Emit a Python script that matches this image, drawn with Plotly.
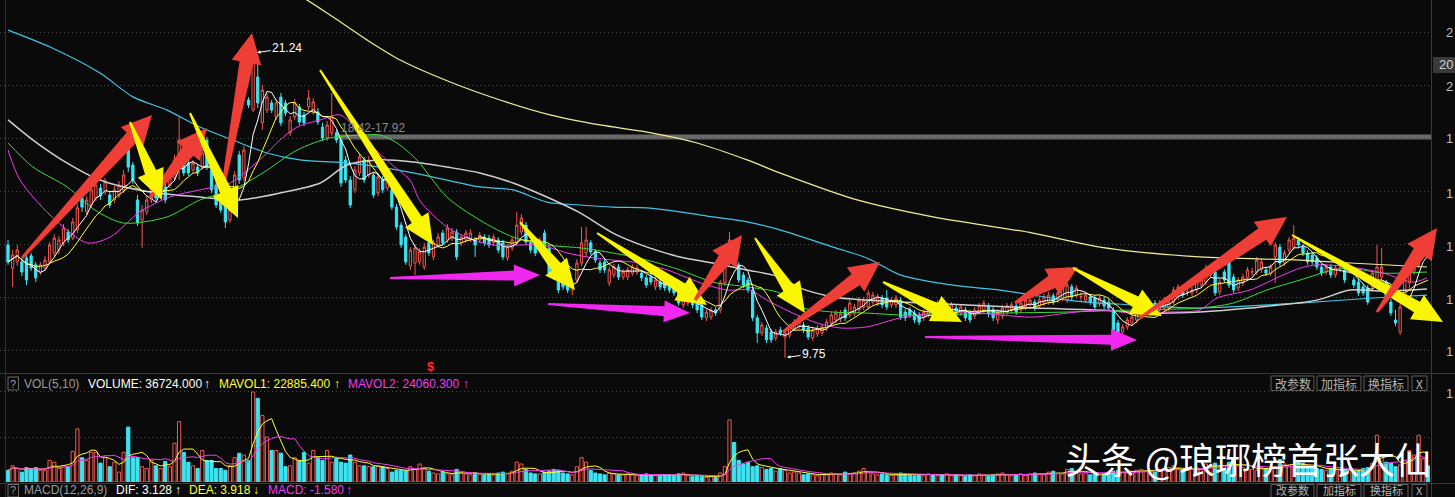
import math
import pandas as pd
import plotly.graph_objects as go

# ---------------- DATA ----------------
OPEN = [
    14.00, 13.13, 13.36, 13.36, 13.51, 13.59, 13.25, 12.98, 13.13, 13.36,
    13.70, 13.81, 14.08, 14.49, 14.26, 14.57, 15.77, 15.25, 15.51, 15.77,
    16.15, 16.00, 15.89, 15.70, 15.89, 16.08, 17.85, 17.02, 15.70, 14.94,
    15.25, 15.70, 16.45, 16.08, 16.19, 16.26, 16.53, 17.32, 17.21, 17.09,
    16.83, 16.94, 16.94, 17.96, 16.83, 16.26, 15.77, 15.51, 14.94, 15.32,
    17.40, 16.53, 19.47, 19.09, 20.34, 18.61, 19.09, 19.36, 18.83, 19.58,
    19.36, 18.23, 18.83, 19.21, 18.91, 19.21, 19.02, 19.02, 18.45, 18.04,
    18.23, 18.23, 17.96, 17.21, 16.45, 16.08, 16.72, 17.21, 16.64, 16.64,
    15.96, 16.45, 16.15, 16.08, 15.43, 14.75, 14.30, 13.21, 13.32, 13.36,
    13.17, 14.08, 13.55, 14.00, 14.45, 14.19, 14.26, 14.49, 14.08, 14.19,
    14.19, 14.19, 14.19, 14.30, 14.26, 14.08, 14.19, 14.08, 13.51, 13.89,
    14.11, 14.49, 14.75, 14.08, 14.00, 13.89, 14.45, 13.89, 13.17, 12.79,
    12.76, 12.57, 12.30, 12.68, 13.32, 13.70, 14.08, 13.74, 13.32, 13.36,
    12.57, 12.87, 13.17, 12.79, 12.79, 12.94, 12.98, 12.94, 12.76, 12.79,
    12.42, 12.60, 12.60, 12.57, 12.42, 12.30, 11.74, 11.81, 12.00, 11.92,
    11.74, 11.25, 11.28, 11.55, 11.55, 12.57, 13.36, 14.00, 13.25, 12.87,
    12.68, 12.30, 11.25, 10.68, 10.87, 10.72, 10.49, 10.79, 10.53, 10.60,
    10.87, 10.94, 10.98, 10.87, 10.49, 10.64, 10.68, 10.87, 11.06, 11.17,
    11.21, 11.55, 11.36, 11.43, 11.55, 11.66, 11.66, 11.85, 11.81, 12.00,
    12.00, 11.74, 11.74, 11.92, 11.47, 11.55, 11.43, 11.36, 11.25, 11.36,
    11.62, 11.47, 11.74, 11.36, 11.47, 11.62, 11.43, 11.55, 11.43, 11.32,
    11.47, 11.55, 11.70, 11.55, 11.17, 11.32, 11.47, 11.55, 11.70, 11.55,
    11.66, 11.74, 11.85, 11.70, 11.81, 11.85, 12.08, 11.92, 12.00, 11.92,
    12.42, 12.11, 12.04, 11.92, 12.04, 12.00, 11.77, 11.92, 11.85, 11.55,
    11.06, 10.72, 10.91, 11.06, 11.17, 11.36, 11.47, 11.43, 11.81, 11.55,
    11.62, 11.62, 11.85, 12.04, 12.30, 12.22, 12.19, 12.30, 12.49, 12.60,
    12.87, 12.98, 12.23, 12.98, 13.43, 12.79, 12.38, 12.57, 12.76, 12.98,
    12.98, 13.06, 13.06, 12.94, 13.55, 13.92, 13.32, 13.81, 13.92, 14.19,
    13.92, 13.70, 13.62, 13.51, 13.17, 12.98, 13.17, 12.87, 13.12, 13.06,
    13.05, 12.68, 12.60, 12.42, 12.38, 12.42, 12.68, 12.79, 12.57, 11.85,
    11.17, 10.72, 11.92, 12.57, 12.98, 13.25, 13.62, 14.00,
]
HIGH = [
    14.19, 13.81, 14.00, 13.51, 13.62, 13.70, 13.36, 13.36, 13.58, 14.11,
    14.41, 14.34, 14.79, 14.60, 15.02, 15.55, 15.92, 15.85, 16.23, 16.45,
    16.30, 16.53, 16.04, 16.23, 16.42, 16.83, 18.34, 17.13, 15.89, 15.51,
    15.85, 16.60, 16.57, 16.79, 16.34, 16.98, 17.40, 18.83, 17.36, 17.21,
    17.21, 17.06, 17.62, 18.08, 16.98, 16.38, 15.92, 15.62, 15.47, 16.79,
    17.55, 17.73, 19.58, 21.24, 20.87, 20.04, 19.74, 19.47, 19.51, 19.74,
    19.47, 18.87, 19.51, 19.32, 19.02, 19.85, 19.55, 19.17, 18.61, 18.68,
    19.74, 18.34, 18.07, 17.36, 16.60, 16.98, 17.47, 17.32, 17.36, 16.75,
    16.72, 16.60, 16.79, 16.23, 15.55, 14.87, 14.41, 13.92, 14.04, 13.89,
    14.08, 14.19, 14.19, 14.45, 14.57, 14.79, 14.64, 14.60, 14.41, 14.57,
    14.60, 14.30, 14.49, 14.41, 14.38, 14.41, 14.30, 14.19, 14.04, 14.30,
    15.25, 15.17, 14.87, 14.19, 14.11, 14.30, 14.57, 14.00, 13.28, 12.91,
    12.87, 12.68, 12.72, 13.47, 14.68, 14.68, 14.19, 13.85, 13.43, 13.47,
    13.17, 13.28, 13.28, 13.09, 13.17, 13.28, 13.25, 13.06, 12.87, 12.91,
    12.79, 12.72, 12.72, 12.68, 12.53, 12.42, 12.04, 12.11, 12.11, 12.04,
    11.85, 11.58, 11.66, 11.66, 12.68, 13.51, 14.49, 14.11, 13.36, 12.98,
    12.79, 12.42, 11.36, 11.09, 10.98, 10.83, 10.83, 10.91, 10.79, 11.02,
    11.21, 11.36, 11.09, 10.98, 10.91, 10.98, 11.02, 11.21, 11.47, 11.55,
    11.55, 11.66, 11.92, 11.77, 12.04, 12.04, 12.30, 12.23, 12.15, 12.11,
    12.30, 12.04, 12.11, 12.04, 11.58, 11.66, 11.55, 11.47, 11.58, 11.74,
    11.74, 11.92, 11.85, 11.74, 11.85, 11.74, 11.77, 11.66, 11.55, 11.66,
    11.81, 11.92, 11.81, 11.66, 11.58, 11.74, 11.81, 11.85, 11.81, 11.92,
    12.04, 12.04, 11.96, 12.04, 12.15, 12.23, 12.19, 12.30, 12.53, 13.17,
    12.53, 12.49, 12.23, 12.23, 12.15, 12.11, 12.11, 12.04, 11.96, 11.66,
    11.17, 11.02, 11.28, 11.40, 11.55, 11.66, 11.77, 11.85, 11.92, 11.92,
    12.04, 11.96, 12.42, 12.53, 12.42, 12.38, 12.42, 12.72, 12.79, 13.25,
    13.28, 13.09, 12.72, 13.09, 13.62, 12.91, 12.79, 12.91, 13.17, 13.13,
    13.55, 13.47, 13.17, 13.28, 14.11, 14.04, 13.81, 14.30, 14.75, 14.30,
    14.04, 13.81, 13.74, 13.62, 13.28, 13.28, 13.28, 13.25, 13.28, 13.17,
    13.17, 12.79, 12.72, 12.53, 12.49, 13.06, 14.00, 13.89, 12.68, 11.96,
    11.55, 11.77, 12.79, 13.17, 13.47, 13.85, 14.11, 14.11,
]
LOW = [
    13.25, 12.42, 13.21, 12.83, 12.49, 13.02, 12.60, 12.87, 13.02, 13.28,
    13.58, 13.66, 13.96, 14.08, 14.19, 14.45, 15.25, 15.13, 15.40, 15.66,
    15.70, 15.89, 15.40, 15.58, 15.77, 15.96, 16.75, 16.30, 14.72, 13.89,
    15.13, 15.58, 15.66, 15.96, 15.58, 16.15, 16.42, 16.45, 16.60, 16.60,
    16.72, 16.60, 16.83, 16.83, 15.96, 15.40, 15.21, 14.64, 14.83, 15.21,
    16.30, 16.42, 19.17, 19.02, 19.17, 18.34, 18.98, 18.98, 18.72, 18.49,
    18.87, 18.11, 18.72, 18.53, 18.49, 19.09, 18.91, 18.53, 17.92, 17.92,
    18.11, 17.85, 16.19, 16.34, 15.40, 15.96, 16.60, 16.34, 16.53, 15.77,
    15.85, 15.96, 16.04, 15.32, 14.57, 13.89, 13.25, 13.06, 12.87, 13.25,
    13.06, 13.58, 13.43, 13.89, 13.96, 14.08, 14.15, 13.43, 13.96, 14.08,
    14.11, 13.55, 14.08, 13.96, 13.89, 13.96, 13.70, 13.43, 13.40, 13.77,
    14.00, 14.38, 14.00, 13.70, 13.58, 13.77, 13.81, 12.83, 12.68, 12.19,
    12.30, 12.19, 12.11, 12.57, 13.21, 13.58, 13.62, 13.32, 12.94, 12.94,
    12.45, 12.76, 12.68, 12.68, 12.68, 12.83, 12.87, 12.64, 12.38, 12.49,
    12.30, 12.30, 12.26, 12.19, 12.08, 11.70, 11.62, 11.70, 11.62, 11.43,
    11.17, 11.13, 11.17, 11.32, 11.43, 12.45, 13.25, 13.21, 12.57, 12.38,
    12.19, 11.13, 10.30, 10.57, 10.30, 10.30, 10.38, 10.57, 9.75, 10.49,
    10.75, 10.83, 10.68, 10.42, 10.38, 10.53, 10.57, 10.75, 10.94, 11.06,
    11.09, 11.13, 11.25, 11.32, 11.43, 11.55, 11.55, 11.74, 11.70, 11.62,
    11.55, 11.62, 11.62, 11.17, 11.13, 11.25, 11.06, 10.98, 11.13, 11.25,
    11.28, 11.36, 11.13, 11.25, 11.36, 11.25, 11.32, 11.13, 11.06, 11.21,
    11.36, 11.43, 11.28, 11.13, 11.02, 11.21, 11.36, 11.43, 11.36, 11.43,
    11.55, 11.62, 11.51, 11.58, 11.70, 11.74, 11.74, 11.81, 11.89, 11.81,
    11.92, 12.00, 11.85, 11.81, 11.74, 11.55, 11.66, 11.58, 11.51, 10.60,
    10.60, 10.60, 10.79, 10.94, 11.06, 11.25, 11.36, 11.32, 11.36, 11.43,
    11.51, 11.51, 11.74, 11.92, 12.00, 12.08, 12.08, 12.19, 12.38, 12.49,
    12.76, 12.08, 12.11, 12.57, 12.38, 12.19, 12.26, 12.45, 12.64, 12.83,
    12.87, 12.94, 12.83, 12.83, 12.57, 13.21, 13.21, 13.70, 13.81, 13.89,
    13.58, 13.25, 13.25, 13.06, 12.83, 12.87, 12.76, 12.76, 12.98, 12.57,
    12.94, 12.38, 12.08, 12.08, 11.74, 12.30, 12.57, 12.68, 11.81, 11.32,
    10.94, 10.60, 11.81, 12.30, 12.87, 13.13, 13.51, 13.70,
]
CLOSE = [
    13.36, 13.62, 13.81, 12.98, 12.68, 13.13, 12.76, 13.25, 13.43, 14.00,
    14.26, 14.19, 14.64, 14.19, 14.87, 15.40, 15.43, 15.70, 16.08, 16.26,
    15.85, 16.38, 15.51, 16.08, 16.26, 16.64, 16.94, 16.45, 14.83, 15.32,
    15.70, 16.45, 15.77, 16.64, 15.70, 16.83, 17.21, 17.96, 16.72, 16.72,
    17.09, 16.72, 17.47, 16.94, 16.08, 15.51, 15.32, 14.87, 15.32, 16.64,
    16.45, 17.58, 19.28, 20.91, 19.36, 19.85, 19.58, 19.09, 19.36, 18.61,
    18.98, 18.72, 19.36, 18.64, 18.61, 19.55, 19.40, 18.64, 18.04, 18.53,
    18.83, 17.96, 16.34, 16.45, 15.51, 16.83, 17.32, 16.45, 17.21, 15.89,
    16.57, 16.08, 16.64, 15.43, 14.68, 14.00, 13.36, 13.81, 13.89, 13.74,
    13.92, 13.70, 14.08, 14.30, 14.08, 14.64, 14.49, 13.55, 14.30, 14.45,
    14.45, 14.00, 14.38, 14.08, 14.00, 14.30, 13.81, 13.55, 13.92, 14.19,
    14.75, 15.02, 14.11, 13.81, 13.70, 14.19, 13.92, 12.94, 12.79, 12.30,
    12.42, 12.30, 12.60, 13.32, 14.08, 14.19, 13.74, 13.43, 13.06, 13.06,
    13.06, 13.17, 12.79, 12.98, 13.06, 13.17, 13.13, 12.76, 12.49, 12.60,
    12.68, 12.42, 12.38, 12.30, 12.19, 11.81, 11.92, 12.00, 11.74, 11.55,
    11.28, 11.47, 11.55, 11.43, 12.57, 13.36, 14.19, 13.32, 12.68, 12.49,
    12.30, 11.25, 10.68, 10.98, 10.42, 10.42, 10.72, 10.68, 10.68, 10.91,
    11.09, 11.25, 10.79, 10.53, 10.79, 10.87, 10.91, 11.09, 11.36, 11.43,
    11.40, 11.25, 11.81, 11.66, 11.92, 11.92, 12.19, 12.11, 12.04, 11.74,
    11.66, 11.92, 12.00, 11.28, 11.25, 11.36, 11.17, 11.09, 11.47, 11.62,
    11.40, 11.81, 11.25, 11.62, 11.74, 11.36, 11.66, 11.25, 11.17, 11.55,
    11.70, 11.81, 11.40, 11.25, 11.47, 11.62, 11.70, 11.74, 11.47, 11.81,
    11.92, 11.92, 11.62, 11.92, 12.04, 12.11, 11.85, 12.19, 12.42, 12.49,
    12.04, 12.38, 12.05, 12.11, 11.85, 11.66, 12.00, 11.70, 11.62, 10.72,
    10.72, 10.91, 11.17, 11.28, 11.43, 11.55, 11.66, 11.74, 11.47, 11.81,
    11.92, 11.85, 12.30, 12.42, 12.11, 12.23, 12.30, 12.60, 12.68, 13.13,
    13.17, 12.19, 12.60, 12.68, 12.49, 12.30, 12.68, 12.79, 13.06, 12.99,
    13.43, 13.36, 12.94, 13.17, 14.00, 13.32, 13.70, 14.19, 14.26, 14.00,
    13.70, 13.36, 13.36, 13.17, 12.94, 13.17, 12.87, 13.13, 13.13, 12.68,
    13.06, 12.49, 12.19, 12.19, 11.85, 12.94, 13.17, 13.17, 11.92, 11.43,
    11.06, 11.66, 12.68, 13.06, 13.36, 13.74, 14.00, 13.81,
]
VOLUME = [
    13, 18, 15, 11, 16, 15, 16, 13, 13, 24,
    22, 15, 18, 17, 34, 59, 27, 24, 33, 33,
    21, 27, 17, 22, 11, 33, 61, 27, 27, 17,
    15, 24, 18, 15, 23, 17, 43, 67, 33, 22,
    18, 15, 35, 24, 24, 15, 15, 13, 18, 27,
    32, 30, 24, 100, 93, 74, 50, 35, 35, 32,
    17, 18, 27,
    24, 33, 21, 35, 27, 24, 35, 22, 27, 22,
    21, 30, 22, 18, 18, 17, 17, 18, 17, 15,
    11, 13, 13, 13, 17, 14, 20, 16,
    12, 10, 9, 11, 9, 8, 14, 10, 9, 8,
    10, 9, 8, 9, 8, 10, 11, 9, 12, 22,
    20, 14, 10, 9, 9, 11, 12, 14, 13, 10,
    9, 8, 17, 27, 22, 13, 10, 9, 8, 10,
    9, 8, 8, 9, 8, 7, 8, 9, 8, 7,
    7, 8, 8, 7, 9, 10, 7, 6, 7, 6,
    5, 6, 5, 10, 17, 69, 44, 24, 20, 22,
    17, 18, 16, 14, 15, 12, 15, 13, 10, 11,
    10, 8, 9, 8, 7, 9, 8, 10, 9, 8,
    11, 9, 10, 12, 15, 11, 9, 8, 9, 8,
    7, 8, 10, 9, 8, 7, 8, 7, 9, 8,
    7, 8, 9, 7, 8, 7, 6, 8, 7, 9,
    8, 7, 8, 9, 10, 8, 7, 8, 9, 8,
    9, 10, 9, 8, 11, 12, 10, 9, 14, 15,
    11, 9, 10, 8, 9, 8, 9, 10, 12, 13,
    11, 10, 12, 13, 14, 12, 13, 11, 14, 15,
    16, 18, 15, 12, 13, 14, 16, 15, 20, 18,
    21, 17, 15, 22, 24, 18, 16, 15, 14, 13,
    16, 15, 14, 17, 25, 20, 18, 17, 22, 21,
    18, 16, 15, 14, 13, 15, 14, 13, 14, 13,
    12, 13, 15, 16, 21, 52, 30, 22, 21, 17,
    19, 24, 35, 30, 52, 26, 18,
]

# longer moving averages, read as sample points (candle index, price)
MA20_X = [0, 2.6, 9.1, 17.1, 22.1, 28.5, 35, 41.5, 48, 55.1, 58.8, 62.5, 67.5, 71.8, 75.5,
          78.9, 82.6, 86.9, 89.1, 94.9, 100.5, 104.9, 110.7, 115, 120.9, 125.2, 130.8, 136.6,
          142.5, 148.1, 151.1, 155.5, 160.4, 164.1, 169.7, 174.9, 179.9, 185.7, 192.9, 200,
          207.4, 214.5, 221.6, 229, 236.1, 243.2, 250.6, 257.7, 261.4, 268.5, 275.7, 279.4,
          283, 290.2, 297.3, 303.8, 306.8]
MA20_Y = [17.58, 16.45, 15.13, 14.08, 14.30, 15.25, 15.81, 16.08, 16.34, 17.32, 17.96, 18.45,
          18.72, 18.91, 18.34, 17.70, 17.09, 16.45, 15.66, 14.68, 14.19, 14.00, 14.00, 14.00,
          13.70, 13.55, 13.43, 13.32, 13.06, 12.68, 12.49, 12.30, 12.30, 11.92, 11.43, 11.06,
          10.87, 10.91, 11.25, 11.43, 11.47, 11.36, 11.28, 11.43, 11.55, 11.43, 11.47, 11.55,
          12.00, 12.30, 12.87, 13.13, 13.25, 13.17, 12.94, 12.60, 12.76]
MA30_X = [0, 5.4, 12.8, 18.8, 24.9, 34.4, 41.5, 48.6, 55.1, 62.5, 69.6, 76.8, 80.4, 84.1, 88.4,
          94.9, 102, 109.2, 116.5, 123.7, 130.8, 138.2, 145.3, 152.4, 159.8, 166.9, 171.2,
          178.4, 185.7, 192.9, 200, 214.5, 229, 243.2, 257.7, 264.9, 272.2, 279.4, 286.5,
          290.2, 297.3, 306.8]
MA30_Y = [17.85, 16.94, 16.19, 15.32, 14.83, 15.06, 15.70, 16.08, 16.72, 17.58, 18.04, 18.15,
          18.15, 17.85, 17.21, 15.81, 14.94, 14.30, 14.00, 13.89, 13.70, 13.43, 13.06, 12.60,
          12.42, 12.19, 11.66, 11.47, 11.43, 11.36, 11.36, 11.43, 11.47, 11.55, 11.62, 11.81,
          12.30, 12.68, 13.06, 13.13, 12.94, 12.98]
MA60_X = [0, 5.4, 12.8, 19.9, 30.7, 41.5, 50.2, 58.8, 67.5, 73.3, 80.4, 87.6, 94.9, 102, 109.2,
          116.5, 123.7, 130.8, 138.2, 145.3, 152.4, 159.8, 166.9, 171.2, 178.4, 185.7, 192.9,
          207.4, 221.6, 236.1, 246.9, 257.7, 268.5, 283, 290.2, 297.3, 306.8]
MA60_Y = [18.72, 17.96, 17.09, 16.45, 16.00, 15.81, 15.70, 15.96, 16.34, 17.02, 17.21, 17.13,
          16.94, 16.72, 16.34, 15.81, 15.21, 14.45, 13.92, 13.55, 13.32, 13.06, 12.79, 12.38,
          12.04, 11.92, 11.85, 11.74, 11.62, 11.55, 11.43, 11.47, 11.62, 11.92, 12.30, 12.26,
          12.34]
MA120_X = [0, 9.1, 19.9, 27, 34.4, 41.5, 48.6, 56, 63.1, 73.9, 80.4, 87.6, 94.9, 102, 109.2,
           116.5, 123.7, 130.8, 138.2, 145.3, 152.4, 159.8, 166.9, 178.4, 185.7, 192.9, 200,
           207.4, 214.5, 221.6, 229, 236.1, 243.2, 250.6, 257.7, 279.4, 295.2, 306.8]
MA120_Y = [22.11, 21.47, 20.49, 19.59, 19.09, 18.45, 17.96, 17.47, 17.21, 17.09, 16.94, 16.72,
           16.45, 16.19, 16.08, 15.62, 15.51, 15.43, 15.40, 15.25, 15.06, 14.87, 14.57, 13.92,
           13.51, 12.87, 12.60, 12.42, 12.30, 12.11, 11.92, 11.81, 11.74, 11.66, 11.62, 11.81,
           12.00, 12.11]
MA250_X = [56.6, 64.6, 70.3, 77.6, 84.8, 95.6, 106.4, 117.2, 128, 138.2, 149, 159.8, 166.9,
           183.6, 200, 221.6, 236.1, 257.7, 279.4, 290.2, 306.8]
MA250_Y = [24.0, 23.25, 22.60, 21.74, 20.98, 20.15, 19.47, 18.91, 18.53, 18.26, 17.85, 17.21,
           16.72, 15.70, 15.06, 14.45, 13.92, 13.55, 13.43, 13.32, 13.17]

PRICE_GRID = [10, 12, 14, 16, 18, 20, 22]
VOL_GRID = [50, 100]
HIGH_MARK = 21.24
LOW_MARK = 9.75

# ---------------- STYLE / LAYOUT HELPERS ----------------
W, H = 1455, 497
PLOT_W = 1431
BG = "#0a0a0a"
RED = "#F2574E"
CYAN = "#3DE3F0"
FONT = "Liberation Sans, Arial, sans-serif"
CJK = "Noto Sans CJK SC, sans-serif"


def px(x):
    return x / PLOT_W


def py(y):
    return 1 - y / H


n = len(CLOSE)
idx = list(range(n))
closes = pd.Series(CLOSE)
ma5 = closes.rolling(5, min_periods=1).mean()
ma10 = closes.rolling(10, min_periods=1).mean()
vols = pd.Series(VOLUME)
mavol1 = vols.rolling(5, min_periods=1).mean()
mavol2 = vols.rolling(10, min_periods=1).mean()
up = [c >= o for o, c in zip(OPEN, CLOSE)]

fig = go.Figure()

fig.add_trace(go.Candlestick(
    x=idx, open=OPEN, high=HIGH, low=LOW, close=CLOSE,
    increasing=dict(line=dict(color=RED, width=1), fillcolor=BG),
    decreasing=dict(line=dict(color=CYAN, width=1), fillcolor=CYAN),
    whiskerwidth=0, xaxis="x", yaxis="y", hoverinfo="skip", showlegend=False))


def ma_line(xs, ys, color, width=1.0, spline=True):
    fig.add_trace(go.Scatter(
        x=xs, y=ys, mode="lines", xaxis="x", yaxis="y", hoverinfo="skip", showlegend=False,
        line=dict(color=color, width=width, shape="spline" if spline else "linear",
                  smoothing=0.8 if spline else None)))


ma_line(MA250_X, MA250_Y, "#EDED9A", 1.2)
ma_line(MA120_X, MA120_Y, "#44C4E4", 1.2)
ma_line(MA60_X, MA60_Y, "#CFCFCF", 1.5)
ma_line(MA30_X, MA30_Y, "#3CDC3C", 1.0)
ma_line(MA20_X, MA20_Y, "#F03CF0", 1.0)
ma_line(idx, ma10, "#FFFF30", 1.0, spline=False)
ma_line(idx, ma5, "#FFFFFF", 1.0, spline=False)

fig.add_trace(go.Bar(
    x=idx, y=VOLUME, xaxis="x2", yaxis="y2", hoverinfo="skip", showlegend=False,
    marker=dict(color=[BG if u else CYAN for u in up],
                line=dict(color=[RED if u else CYAN for u in up], width=1))))
fig.add_trace(go.Scatter(x=idx, y=mavol1, mode="lines", xaxis="x2", yaxis="y2",
                         line=dict(color="#FFFF30", width=1), hoverinfo="skip", showlegend=False))
fig.add_trace(go.Scatter(x=idx, y=mavol2, mode="lines", xaxis="x2", yaxis="y2",
                         line=dict(color="#F03CF0", width=1), hoverinfo="skip", showlegend=False))

XR = [-8 / 4.625, (PLOT_W - 8) / 4.625]
shapes = []
ann = []

# frame lines
shapes.append(dict(type="line", xref="paper", yref="paper", x0=0, x1=W / PLOT_W,
                   y0=py(373.5), y1=py(373.5), line=dict(color="#3a3a3a", width=1)))
shapes.append(dict(type="line", xref="paper", yref="paper", x0=0, x1=W / PLOT_W,
                   y0=py(483.5), y1=py(483.5), line=dict(color="#3a3a3a", width=1)))
shapes.append(dict(type="line", xref="paper", yref="paper", x0=px(1431.5), x1=px(1431.5),
                   y0=0, y1=1, line=dict(color="#3a3a3a", width=1)))
shapes.append(dict(type="line", xref="paper", yref="paper", x0=px(5.5), x1=px(5.5),
                   y0=0, y1=1, line=dict(color="#2e2e2e", width=1)))
# grey band
shapes.append(dict(type="rect", xref="paper", yref="paper", x0=px(336), x1=px(1431),
                   y0=py(139.5), y1=py(134.5), fillcolor="#6a6a6a", line=dict(width=0),
                   layer="below"))


# block arrows (annotation decoration)
def arrow_path(x0, y0, x1, y1, hw, hl, sw, tw):
    dx, dy = x1 - x0, y1 - y0
    L = math.hypot(dx, dy)
    ux, uy = dx / L, dy / L
    nx, ny = -uy, ux
    bx, by = x1 - ux * hl, y1 - uy * hl
    pts = [(x0 + nx * tw, y0 + ny * tw), (bx + nx * sw, by + ny * sw),
           (bx + nx * hw, by + ny * hw), (x1, y1), (bx - nx * hw, by - ny * hw),
           (bx - nx * sw, by - ny * sw), (x0 - nx * tw, y0 - ny * tw)]
    return "M " + " L ".join(f"{px(a):.5f},{py(b):.5f}" for a, b in pts) + " Z"


ARROW_STYLE = {
    "r": ("#EE3E35", 15, 30, 7, 1.5),
    "y": ("#FAF500", 14, 30, 6, 1.0),
    "m": ("#F028F0", 11, 26, 5, 1.0),
}
ARROWS = [
    (22, 258, 152, 115, "r"), (150, 198, 207, 128, "r"), (222, 192, 252, 33, "r"),
    (130, 122, 162, 200, "y"), (190, 113, 238, 218, "y"), (320, 70, 433, 245, "y"),
    (520, 222, 575, 290, "y"), (597, 233, 707, 305, "y"), (695, 300, 742, 235, "r"),
    (755, 238, 805, 313, "y"), (783, 332, 880, 262, "r"), (883, 282, 962, 322, "y"),
    (1015, 303, 1078, 267, "r"), (1073, 268, 1162, 316, "y"), (1140, 318, 1287, 217, "r"),
    (1292, 235, 1443, 322, "y"), (1377, 312, 1437, 228, "r"),
    (390, 278, 540, 275, "m"), (548, 304, 690, 313, "m"), (925, 337, 1137, 340, "m"),
]
for x0, y0, x1, y1, k in ARROWS:
    col, hw, hl, sw, tw = ARROW_STYLE[k]
    shapes.append(dict(type="path", xref="paper", yref="paper",
                       path=arrow_path(x0, y0, x1, y1, hw, hl, sw, tw),
                       fillcolor=col, line=dict(width=0)))


def txt(x, y, s, color, size=12, anchor="left", family=FONT, **kw):
    d = dict(x=px(x), y=py(y), xref="paper", yref="paper", text=s, showarrow=False,
             xanchor=anchor, yanchor="middle", borderpad=0,
             font=dict(family=family, size=size, color=color))
    d.update(kw)
    ann.append(d)


# right-hand axis (only the first digits are visible in the original)
for yy, s in [(33, "2"), (86, "2"), (139, "1"), (193, "1"), (246, "1"), (299, "1"), (351, "1"),
              (393, "1")]:
    txt(1454, yy, s, "#BDBDBD", 13, anchor="right")
shapes.append(dict(type="rect", xref="paper", yref="paper", x0=px(1433), x1=px(1456),
                   y0=py(73), y1=py(57), fillcolor="#3a3a3a", line=dict(width=0)))
txt(1454, 65, "20", "#D0D0D0", 13, anchor="right")

# band label & extreme marks
txt(340, 128, "18.42-17.92", "#8A8A8A", 12)
ann.append(dict(x=53, y=HIGH_MARK, xref="x", yref="y", text=f"{HIGH_MARK:.2f}",
                showarrow=True, ax=34, ay=-5, arrowhead=2, arrowsize=0.7, arrowwidth=1,
                arrowcolor="#FFFFFF", standoff=4,
                font=dict(family=FONT, size=12, color="#FFFFFF")))
ann.append(dict(x=168, y=LOW_MARK, xref="x", yref="y", text=f"{LOW_MARK:.2f}",
                showarrow=True, ax=29, ay=-4, arrowhead=2, arrowsize=0.7, arrowwidth=1,
                arrowcolor="#FFFFFF", standoff=2,
                font=dict(family=FONT, size=12, color="#FFFFFF")))
txt(431, 366, "<b>$</b>", "#FF2A2A", 13, anchor="center")

# indicator header rows
HDR1, HDR2 = 383.5, 490.0
for ytop, ybot, ymid in [(377, 390, HDR1), (484.5, 497, HDR2)]:
    shapes.append(dict(type="rect", xref="paper", yref="paper", x0=px(8), x1=px(18.5),
                       y0=py(ybot), y1=py(ytop), line=dict(color="#6a6a6a", width=1)))
    txt(13.3, ymid, "?", "#9A9A9A", 11, anchor="center")

txt(23, HDR1, "VOL(5,10)", "#9A9A9A")
txt(87, HDR1, "VOLUME: 36724.000", "#FFFFFF")
txt(203, HDR1, "↑", "#FFFFFF")
txt(218, HDR1, "MAVOL1: 22885.400", "#FFFF30")
txt(333, HDR1, "↑", "#FFFF30")
txt(347, HDR1, "MAVOL2: 24060.300", "#F03CF0")
txt(462, HDR1, "↑", "#F03CF0")

txt(23, HDR2, "MACD(12,26,9)", "#9A9A9A")
txt(115, HDR2, "DIF: 3.128", "#FFFFFF")
txt(174, HDR2, "↑", "#FFFFFF")
txt(188, HDR2, "DEA: 3.918", "#FFFF30")
txt(252, HDR2, "↓", "#FFFF30")
txt(267, HDR2, "MACD: -1.580", "#F03CF0")
txt(345, HDR2, "↑", "#F03CF0")

# buttons
for ytop, ybot, ymid, fs in [(376, 390.5, 383.5, 12), (484.5, 498, 490.3, 11)]:
    for x0, x1, label in [(1271, 1314, "改参数"), (1317, 1361, "加指标"),
                          (1364, 1408, "换指标"), (1412, 1427, "X")]:
        shapes.append(dict(type="rect", xref="paper", yref="paper", x0=px(x0), x1=px(x1),
                           y0=py(ybot), y1=py(ytop), line=dict(color="#5c5c5c", width=1)))
        txt((x0 + x1) / 2, ymid, label, "#B4B4B4", fs, anchor="center", family=CJK)

# watermark
txt(1248, 458, "头条 @琅琊榜首张大仙", "#FFFFFF", 36, anchor="center", family=CJK)

fig.update_layout(
    width=W, height=H, margin=dict(l=0, r=W - PLOT_W, t=0, b=0),
    paper_bgcolor=BG, plot_bgcolor=BG, showlegend=False, hovermode=False, bargap=0.3,
    xaxis=dict(domain=[0, 1], range=XR, visible=False, anchor="y",
               rangeslider=dict(visible=False)),
    yaxis=dict(domain=[1 - 373 / H, 1], range=[9.1695, 23.245], tickvals=PRICE_GRID,
               showticklabels=False, showgrid=True, gridcolor="#4a4a4a", griddash="1px,3px",
               gridwidth=1, zeroline=False, showline=False, ticks=""),
    xaxis2=dict(domain=[0, 1], range=XR, visible=False, anchor="y2", matches="x"),
    yaxis2=dict(domain=[15 / H, 1 - 373 / H], range=[0, 121.1], tickvals=VOL_GRID,
                showticklabels=False, showgrid=True, gridcolor="#4a4a4a", griddash="1px,3px",
                zeroline=False, showline=False, ticks=""),
    shapes=shapes, annotations=ann,
)

fig.write_html("out.html", config={"displayModeBar": False, "staticPlot": True},
               post_script="document.body.style.margin='0';document.body.style.padding='0';"
                           "document.body.style.background='#0a0a0a';")
